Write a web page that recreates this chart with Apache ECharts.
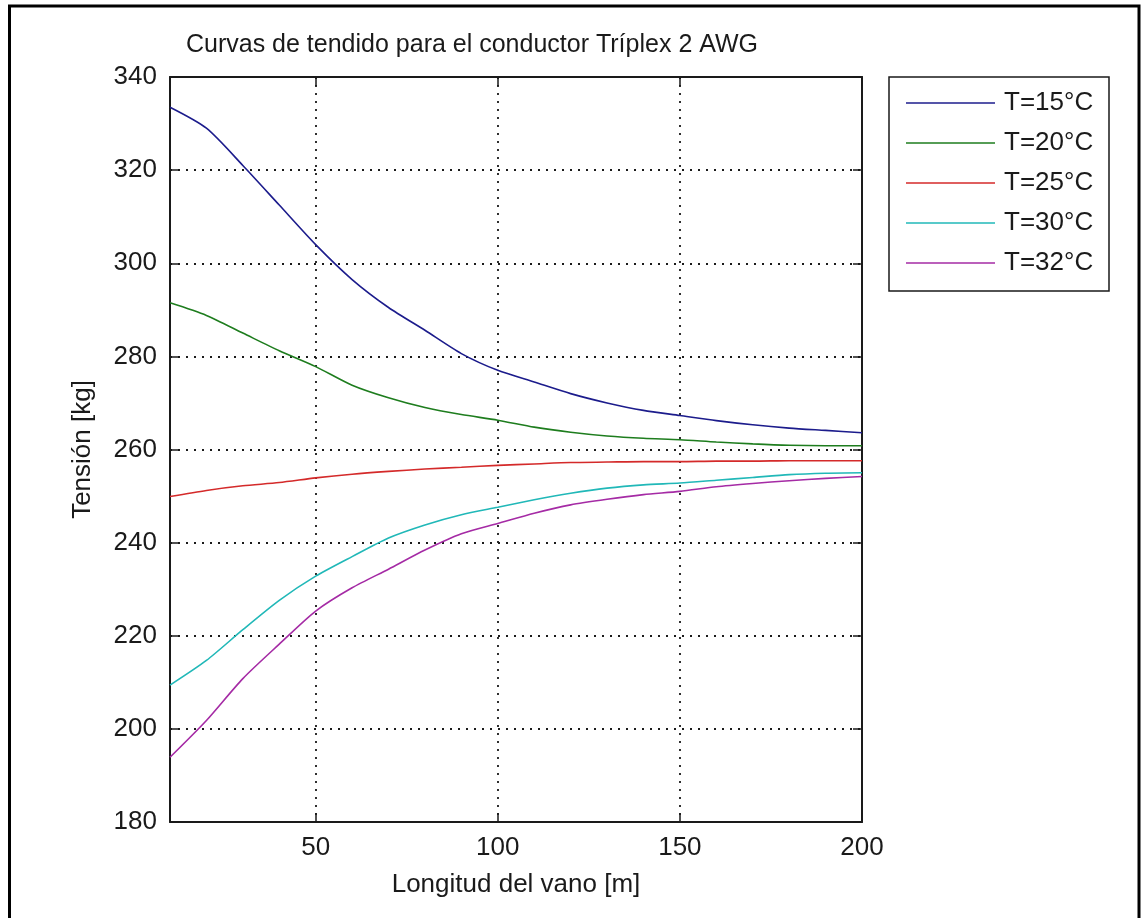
<!DOCTYPE html>
<html>
<head>
<meta charset="utf-8">
<title>Curvas de tendido</title>
<script src="https://cdn.jsdelivr.net/npm/echarts@6/dist/echarts.min.js"></script>
<style>
  html, body { margin: 0; padding: 0; background: #ffffff; }
  #chart { width: 1142px; height: 918px; }
</style>
</head>
<body>
<div id="chart"></div>
<script>
// Longitud del vano [m]
const vanos = [10, 20, 30, 40, 50, 60, 70, 80, 90, 100, 110, 120, 130, 140, 150, 160, 170, 180, 190, 200];

// Tensión [kg] para cada temperatura
const tension15 = [333.5, 329.0, 321.0, 312.5, 304.0, 296.5, 290.5, 285.6, 280.6, 277.0, 274.5, 272.0, 270.0, 268.4, 267.3, 266.2, 265.3, 264.6, 264.1, 263.6];
const tension20 = [291.5, 288.8, 285.0, 281.2, 277.8, 273.8, 271.1, 269.0, 267.5, 266.3, 264.8, 263.7, 262.9, 262.4, 262.1, 261.6, 261.2, 260.9, 260.8, 260.8];
const tension25 = [249.9, 251.2, 252.2, 252.9, 253.9, 254.7, 255.3, 255.8, 256.2, 256.6, 256.9, 257.2, 257.3, 257.4, 257.4, 257.5, 257.5, 257.6, 257.6, 257.6];
const tension30 = [209.4, 214.7, 221.3, 227.6, 232.8, 237.0, 241.0, 243.8, 246.0, 247.6, 249.2, 250.6, 251.7, 252.4, 252.8, 253.4, 254.0, 254.6, 254.9, 255.0];
const tension32 = [193.9, 201.8, 210.8, 218.2, 225.3, 230.3, 234.3, 238.4, 241.9, 244.1, 246.3, 248.1, 249.3, 250.3, 251.0, 252.0, 252.7, 253.3, 253.8, 254.2];

const leyendas = ['T=15°C', 'T=20°C', 'T=25°C', 'T=30°C', 'T=32°C'];
const colores = ['#1c1c8c', '#1e7d1e', '#d42a2a', '#21b8b8', '#a52ba5'];
const xTicks = [50, 100, 150, 200];

const FONT = '"Liberation Sans", Arial, sans-serif';
const INK = '#1a1a1a';

// plain line sample for the legend (thin bar centred in a 89x26 box)
const LEGEND_LINE = 'path://M0,0 M0,12.2 L89,12.2 L89,13.8 L0,13.8 Z M89,26';

const zip = (ys) => vanos.map((x, i) => [x, ys[i]]);
const curvas = [tension15, tension20, tension25, tension30, tension32];

const chart = echarts.init(document.getElementById('chart'), null, { renderer: 'canvas' });

const gridLine = { show: true, lineStyle: { color: INK, type: [2, 6], width: 1.8 } };

chart.setOption({
  backgroundColor: '#ffffff',
  animation: false,
  grid: { left: 170, top: 77, right: 280, bottom: 96, containLabel: false },
  graphic: [
    { type: 'rect', shape: { x: 9.5, y: 6, width: 1129.5, height: 940 },
      style: { fill: 'none', stroke: '#000', lineWidth: 3 }, z: 100 },
    { type: 'rect', shape: { x: 889, y: 77, width: 220, height: 214 },
      style: { fill: '#fff', stroke: INK, lineWidth: 1.5 }, z: 1 },
    { type: 'text', x: 472, y: 45,
      style: { text: 'Curvas de tendido para el conductor Tríplex 2 AWG', font: '25px ' + FONT,
               fill: INK, align: 'center', verticalAlign: 'middle' } }
  ],
  legend: {
    left: 889, top: 77, orient: 'vertical',
    padding: [13, 14, 14, 17],
    itemWidth: 89, itemHeight: 26, itemGap: 14,
    icon: LEGEND_LINE,
    textStyle: { fontFamily: FONT, fontSize: 26, color: INK, padding: [0, 0, 0, 4] },
    data: leyendas, z: 5
  },
  xAxis: [{
    type: 'value', min: 10, max: 200, position: 'bottom',
    name: 'Longitud del vano [m]', nameLocation: 'middle', nameGap: 50,
    nameTextStyle: { fontFamily: FONT, fontSize: 26, color: INK },
    axisLine: { show: true, onZero: false, lineStyle: { color: INK, width: 2 } },
    axisTick: { show: true, inside: true, length: 9, customValues: xTicks, lineStyle: { color: INK, width: 1.5 } },
    axisLabel: { customValues: xTicks, margin: 13, fontFamily: FONT, fontSize: 26, color: INK },
    splitLine: gridLine
  }, {
    type: 'value', min: 10, max: 200, position: 'top',
    axisLine: { show: true, onZero: false, lineStyle: { color: INK, width: 2 } },
    axisTick: { show: true, inside: true, length: 9, customValues: xTicks, lineStyle: { color: INK, width: 1.5 } },
    axisLabel: { show: false }, splitLine: { show: false }
  }],
  yAxis: [{
    type: 'value', min: 180, max: 340, interval: 20, position: 'left',
    name: 'Tensión [kg]', nameLocation: 'middle', nameGap: 74, nameRotate: 90,
    nameTextStyle: { fontFamily: FONT, fontSize: 26, color: INK },
    axisLine: { show: true, onZero: false, lineStyle: { color: INK, width: 2 } },
    axisTick: { show: true, inside: true, length: 9, lineStyle: { color: INK, width: 1.5 } },
    axisLabel: { margin: 13, fontFamily: FONT, fontSize: 26, color: INK },
    splitLine: gridLine
  }, {
    type: 'value', min: 180, max: 340, interval: 20, position: 'right',
    axisLine: { show: true, onZero: false, lineStyle: { color: INK, width: 2 } },
    axisTick: { show: true, inside: true, length: 9, lineStyle: { color: INK, width: 1.5 } },
    axisLabel: { show: false }, splitLine: { show: false }
  }],
  series: curvas.map((ys, i) => ({
    type: 'line', name: leyendas[i], xAxisIndex: 0, yAxisIndex: 0,
    data: zip(ys), showSymbol: false, symbol: 'none', smooth: 0.25,
    lineStyle: { color: colores[i], width: 1.6 }, itemStyle: { color: colores[i] },
    z: 3
  }))
});
</script>
</body>
</html>
